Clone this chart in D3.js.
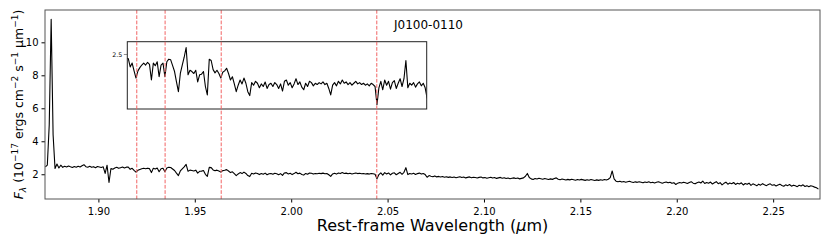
<!DOCTYPE html>
<head>
  <meta charset="utf-8">
  <style>
    body { margin: 0; background: #fff; }
    text { font-family: 'DejaVu Sans', sans-serif; fill: black; }
  </style>
</head>
<body>
  <script src="https://cdn.jsdelivr.net/npm/d3@7"></script>
  <script>
    // spectrum on a regular grid: wavelength = wave0 + i * dWave (micron)
    const wave0 = 1.8725;
    const dWave = 0.001;
    const flux = [
      2.45, 2.55, 5.00, 11.40, 4.40, 2.35, 2.62, 2.38, 2.55, 2.42,
      2.48, 2.44, 2.50, 2.45, 2.41, 2.47, 2.43, 2.49, 2.44, 2.52,
      2.58, 2.46, 2.43, 2.48, 2.42, 2.46, 2.40, 2.47, 2.44, 2.41,
      2.45, 2.05, 2.55, 1.50, 2.35, 2.30, 2.38, 2.42, 2.36, 2.40,
      2.44, 2.38, 2.43, 2.43, 2.30, 2.36, 2.24, 2.13, 2.24, 2.29,
      2.33, 2.36, 2.33, 2.37, 2.34, 2.10, 2.36, 2.32, 2.38, 2.15,
      2.33, 2.36, 2.15, 2.38, 2.42, 2.41, 2.32, 2.23, 2.07, 1.92,
      2.20, 2.33, 2.45, 2.60, 2.18, 2.25, 2.23, 2.20, 2.25, 2.07,
      2.18, 2.19, 2.23, 2.00, 1.87, 2.42, 2.40, 2.26, 2.21, 2.25,
      2.20, 2.13, 2.22, 2.24, 2.28, 2.20, 2.10, 2.15, 2.04, 1.92,
      2.02, 2.10, 2.04, 2.13, 2.05, 1.92, 1.86, 2.06, 2.02, 2.08,
      2.05, 1.98, 2.04, 2.00, 2.07, 1.97, 2.03, 2.05, 2.00, 2.06,
      2.03, 1.97, 2.04, 1.93, 2.08, 2.10, 2.02, 2.06, 1.98, 2.04,
      2.12, 2.03, 2.07, 1.99, 1.95, 2.05, 2.00, 2.08, 2.06, 2.01,
      2.05, 2.03, 2.06, 2.04, 2.07, 2.03, 2.05, 1.97, 1.87, 2.02,
      2.06, 2.01, 2.08, 2.04, 2.10, 2.05, 2.07, 2.03, 2.06, 2.02,
      2.05, 2.08, 2.04, 2.06, 2.03, 2.05, 2.02, 2.04, 2.01, 2.05,
      2.03, 2.00, 1.72, 1.98, 2.08, 1.95, 2.10, 2.02, 2.08, 1.96,
      2.06, 2.09, 1.97, 2.05, 2.12, 2.00, 2.12, 2.40, 1.98, 2.05,
      2.02, 2.06, 1.99, 2.04, 2.07, 2.01, 2.05, 1.98, 1.82, 1.92,
      1.88, 1.85, 1.90, 1.84, 1.87, 1.83, 1.86, 1.82, 1.85, 1.81,
      1.84, 1.80, 1.83, 1.79, 1.82, 1.85, 1.80, 1.83, 1.78, 1.81,
      1.84, 1.79, 1.82, 1.80, 1.77, 1.81, 1.83, 1.78, 1.80, 1.76,
      1.79, 1.82, 1.77, 1.80, 1.75, 1.78, 1.81, 1.76, 1.79, 1.74,
      1.77, 1.73, 1.76, 1.78, 1.74, 1.77, 1.72, 1.75, 1.78, 1.88,
      2.05, 1.80, 1.72, 1.68, 1.74, 1.71, 1.76, 1.73, 1.70, 1.74,
      1.71, 1.68, 1.72, 1.69, 1.74, 1.78, 1.70, 1.67, 1.71, 1.68,
      1.65, 1.69, 1.66, 1.70, 1.67, 1.64, 1.68, 1.65, 1.69, 1.66,
      1.63, 1.67, 1.64, 1.68, 1.65, 1.62, 1.66, 1.63, 1.67, 1.64,
      1.68, 1.65, 1.70, 1.80, 2.20, 1.72, 1.58, 1.55, 1.58, 1.53,
      1.56, 1.52, 1.55, 1.58, 1.53, 1.50, 1.54, 1.51, 1.55, 1.52,
      1.48, 1.53, 1.50, 1.54, 1.49, 1.52, 1.47, 1.51, 1.55, 1.50,
      1.46, 1.50, 1.53, 1.48, 1.52, 1.45, 1.49, 1.38, 1.46, 1.50,
      1.47, 1.52, 1.48, 1.44, 1.50, 1.55, 1.46, 1.42, 1.49, 1.53,
      1.47, 1.58, 1.44, 1.50, 1.46, 1.53, 1.41, 1.48, 1.55, 1.43,
      1.49, 1.36, 1.45, 1.52, 1.40, 1.47, 1.43, 1.50, 1.38, 1.45,
      1.41, 1.48, 1.35, 1.44, 1.39, 1.46, 1.33, 1.42, 1.37, 1.30,
      1.40, 1.34, 1.43, 1.36, 1.31, 1.38, 1.42, 1.33, 1.37, 1.29,
      1.35, 1.40, 1.32, 1.27, 1.36, 1.31, 1.38, 1.28, 1.34, 1.30,
      1.25, 1.33, 1.29, 1.36, 1.26, 1.31, 1.24, 1.30, 1.27, 1.22,
      1.18, 1.10
    ];
    // marked wavelengths (red dashed lines)
    const lineWaves = [1.9199, 1.9346, 1.9637, 2.0444];
    const xTicks = [1.90, 1.95, 2.00, 2.05, 2.10, 2.15, 2.20, 2.25];
    const yTicks = [2, 4, 6, 8, 10];
    const insetYTicks = [2.5];
    const objName = "J0100-0110";

    const width = 830, height = 244;
    const plot = {left: 45, right: 820, top: 10, bottom: 199};
    const inset = {left: 127.3, right: 426.7, top: 41.7, bottom: 109};

    const data = flux.map((f, i) => ({w: wave0 + i * dWave, f: f}));

    const svg = d3.select("body").append("svg")
      .attr("width", width).attr("height", height);

    const x = d3.scaleLinear().domain([1.8723, 2.2743]).range([plot.left, plot.right]);
    const y = d3.scaleLinear().domain([0.50, 11.96]).range([plot.bottom, plot.top]);

    // inset: same wavelengths, zoomed flux
    const xi = d3.scaleLinear().domain([x.invert(inset.left), x.invert(inset.right)])
      .range([inset.left, inset.right]);
    const yi = d3.scaleLinear().domain([1.654, 2.689]).range([inset.bottom, inset.top]);

    const defs = svg.append("defs");
    defs.append("clipPath").attr("id", "clipMain").append("rect")
      .attr("x", plot.left).attr("y", plot.top)
      .attr("width", plot.right - plot.left).attr("height", plot.bottom - plot.top);
    defs.append("clipPath").attr("id", "clipInset").append("rect")
      .attr("x", inset.left).attr("y", inset.top)
      .attr("width", inset.right - inset.left).attr("height", inset.bottom - inset.top);

    // main spectrum
    svg.append("path").datum(data)
      .attr("clip-path", "url(#clipMain)")
      .attr("fill", "none").attr("stroke", "black").attr("stroke-width", 1.1)
      .attr("stroke-linejoin", "round")
      .attr("d", d3.line().x(d => x(d.w)).y(d => y(d.f)));

    // inset spectrum
    svg.append("path").datum(data)
      .attr("clip-path", "url(#clipInset)")
      .attr("fill", "none").attr("stroke", "black").attr("stroke-width", 1.1)
      .attr("stroke-linejoin", "round")
      .attr("d", d3.line().x(d => xi(d.w)).y(d => yi(d.f)));

    svg.append("rect")
      .attr("x", inset.left).attr("y", inset.top)
      .attr("width", inset.right - inset.left).attr("height", inset.bottom - inset.top)
      .attr("fill", "none").attr("stroke", "#222").attr("stroke-width", 1);

    const iax = svg.append("g")
      .attr("transform", "translate(" + inset.left + ",0)")
      .call(d3.axisLeft(yi).tickValues(insetYTicks).tickSize(3.5).tickPadding(1.5).tickFormat(d3.format(".1f")));
    iax.select(".domain").remove();
    iax.selectAll("text").style("font-size", "6.3px");
    iax.selectAll("line").attr("stroke", "#444").attr("stroke-width", 0.6);

    // dashed line markers
    svg.append("g").selectAll("line").data(lineWaves).enter().append("line")
      .attr("x1", d => x(d)).attr("x2", d => x(d))
      .attr("y1", plot.top).attr("y2", plot.bottom)
      .attr("stroke", "#f26464").attr("stroke-width", 1)
      .attr("stroke-dasharray", "3.7,1.6");

    // axes
    const xax = svg.append("g")
      .attr("transform", "translate(0," + plot.bottom + ")")
      .call(d3.axisBottom(x).tickValues(xTicks).tickSize(3.5).tickPadding(5).tickFormat(d3.format(".2f")));
    xax.select(".domain").remove();
    xax.selectAll("text").style("font-size", "10px");

    const yax = svg.append("g")
      .attr("transform", "translate(" + plot.left + ",0)")
      .call(d3.axisLeft(y).tickValues(yTicks).tickSize(3.5).tickPadding(3).tickFormat(d3.format("d")));
    yax.select(".domain").remove();
    yax.selectAll("text").style("font-size", "10px");

    svg.append("rect")
      .attr("x", plot.left).attr("y", plot.top)
      .attr("width", plot.right - plot.left).attr("height", plot.bottom - plot.top)
      .attr("fill", "none").attr("stroke", "#555").attr("stroke-width", 1);

    // labels
    svg.append("text")
      .attr("x", (plot.left + plot.right) / 2).attr("y", 231)
      .attr("text-anchor", "middle").style("font-size", "16px")
      .call(t => {
        t.append("tspan").text("Rest-frame Wavelength (");
        t.append("tspan").style("font-style", "italic").text("\u03bc");
        t.append("tspan").text("m)");
      });

    const yl = svg.append("text")
      .attr("transform", "translate(23," + ((plot.top + plot.bottom) / 2) + ") rotate(-90)")
      .attr("text-anchor", "middle").style("font-size", "12.5px");
    yl.append("tspan").style("font-style", "italic").text("F");
    yl.append("tspan").attr("dy", 3).style("font-size", "9px").style("font-style", "italic").text("\u03bb");
    yl.append("tspan").attr("dy", -3).text(" (10");
    yl.append("tspan").attr("dy", -5).style("font-size", "9px").text("\u221217");
    yl.append("tspan").attr("dy", 5).text(" ergs cm");
    yl.append("tspan").attr("dy", -5).style("font-size", "9px").text("\u22122");
    yl.append("tspan").attr("dy", 5).text(" s");
    yl.append("tspan").attr("dy", -5).style("font-size", "9px").text("\u22121");
    yl.append("tspan").attr("dy", 5).text(" \u03bcm");
    yl.append("tspan").attr("dy", -5).style("font-size", "9px").text("\u22121");
    yl.append("tspan").attr("dy", 5).text(")");

    svg.append("text")
      .attr("x", 394).attr("y", 29.3)
      .style("font-size", "12px")
      .text(objName);
  </script>
</body>
